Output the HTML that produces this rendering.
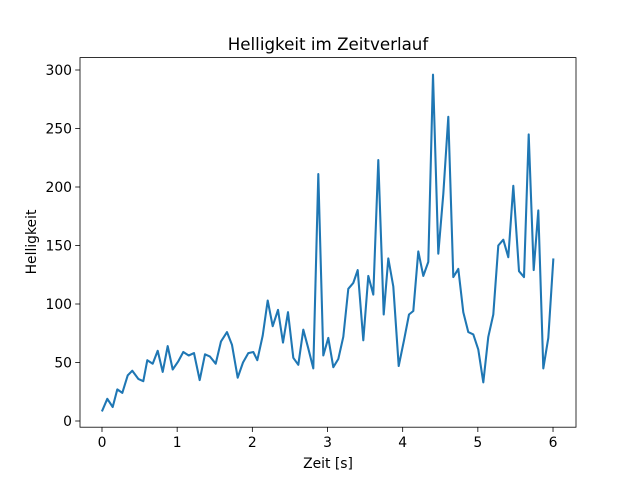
<!DOCTYPE html>
<html><head><meta charset="utf-8"><style>
body{margin:0;background:#fff}
svg{display:block;font-family:"DejaVu Sans","Liberation Sans",sans-serif}
</style></head><body>
<svg id="chart" width="640" height="480">
<rect x="0" y="0" width="640" height="480" fill="#fff"/>
<text x="328" y="50" font-size="16.7" text-anchor="middle">Helligkeit im Zeitverlauf</text>
<g id="xt"></g>
<g id="yt"></g>
<polyline id="line" fill="none" stroke="#1f77b4" stroke-width="2.08" stroke-linejoin="round" stroke-linecap="square"/>
<rect x="80" y="57.6" width="496" height="369.6" fill="none" stroke="#000" stroke-width="0.8"/>
<text x="328" y="468" font-size="13.9" text-anchor="middle">Zeit [s]</text>
<text transform="translate(36,242) rotate(-90)" font-size="13.9" text-anchor="middle">Helligkeit</text>
</svg>
<script>
const pxT=[102.3,107.3,112.7,117.3,122.3,127.7,132.3,138.3,143.3,147.3,152.7,157.7,162.7,167.7,172.7,178.3,183.3,188.7,194,199.7,205,210,215.7,221,227,232,237.7,243,248.3,253.3,257.3,262.7,267.7,272.7,278,283,288,293.3,298.3,303.3,308,313.3,318.3,323.3,328.3,333.3,338.3,343.3,348.3,353.3,357.7,363.3,368.3,373.3,378.3,383.7,388.3,393.3,398.7,404,409,413.3,418.3,423.3,428.3,433,438.3,443.3,448.3,453.3,458.3,463.3,468.3,473.3,478.3,483.3,488.3,493.3,498.3,503.3,508.3,513.3,519,524,528.7,533.7,538.3,543.3,548.3,553.3];
const times=pxT.map(p=>+((p-102)/75.17).toFixed(3));
const values=[9,19,12,27,24,39,43,36,34,52,49,60,42,64,44,51,59,56,58,35,57,55,49,68,76,65,37,50,58,59,52,73,103,81,95,67,93,54,48,78,63,45,211,56,71,46,53,72,113,118,129,69,124,108,223,91,139,115,47,69,91,94,145,124,136,296,143,194,260,123,130,93,76,74,61,33,72,91,150,155,140,201,128,123,245,129,180,45,71,138];
const xTicks=[0,1,2,3,4,5,6];
const yTicks=[0,50,100,150,200,250,300];
const X=v=>102+v*75.17, Y=v=>421-v*1.17;
const ns='http://www.w3.org/2000/svg';
const line=document.getElementById('line');
line.setAttribute('points',times.map((t,i)=>X(t).toFixed(1)+','+Y(values[i]).toFixed(1)).join(' '));
const xt=document.getElementById('xt'),yt=document.getElementById('yt');
xTicks.forEach(v=>{
 const l=document.createElementNS(ns,'line');
 l.setAttribute('x1',X(v));l.setAttribute('x2',X(v));l.setAttribute('y1',427.2);l.setAttribute('y2',432);l.setAttribute('stroke','#000');l.setAttribute('stroke-width','0.8');
 
 
 xt.appendChild(l);
 const t=document.createElementNS(ns,'text');
 t.setAttribute('x',X(v));t.setAttribute('y',447);t.setAttribute('font-size','13.9');t.setAttribute('text-anchor','middle');t.textContent=v;
 
 
 xt.appendChild(t);
});
yTicks.forEach(v=>{
 const l=document.createElementNS(ns,'line');
 l.setAttribute('x1',75.2);l.setAttribute('x2',80);l.setAttribute('y1',Y(v));l.setAttribute('y2',Y(v));l.setAttribute('stroke','#000');l.setAttribute('stroke-width','0.8');
 
 
 yt.appendChild(l);
 const t=document.createElementNS(ns,'text');
 t.setAttribute('x',72);t.setAttribute('y',Y(v)+5);t.setAttribute('font-size','13.9');t.setAttribute('text-anchor','end');t.textContent=v;
 
 
 yt.appendChild(t);
});
</script>
</body></html>
